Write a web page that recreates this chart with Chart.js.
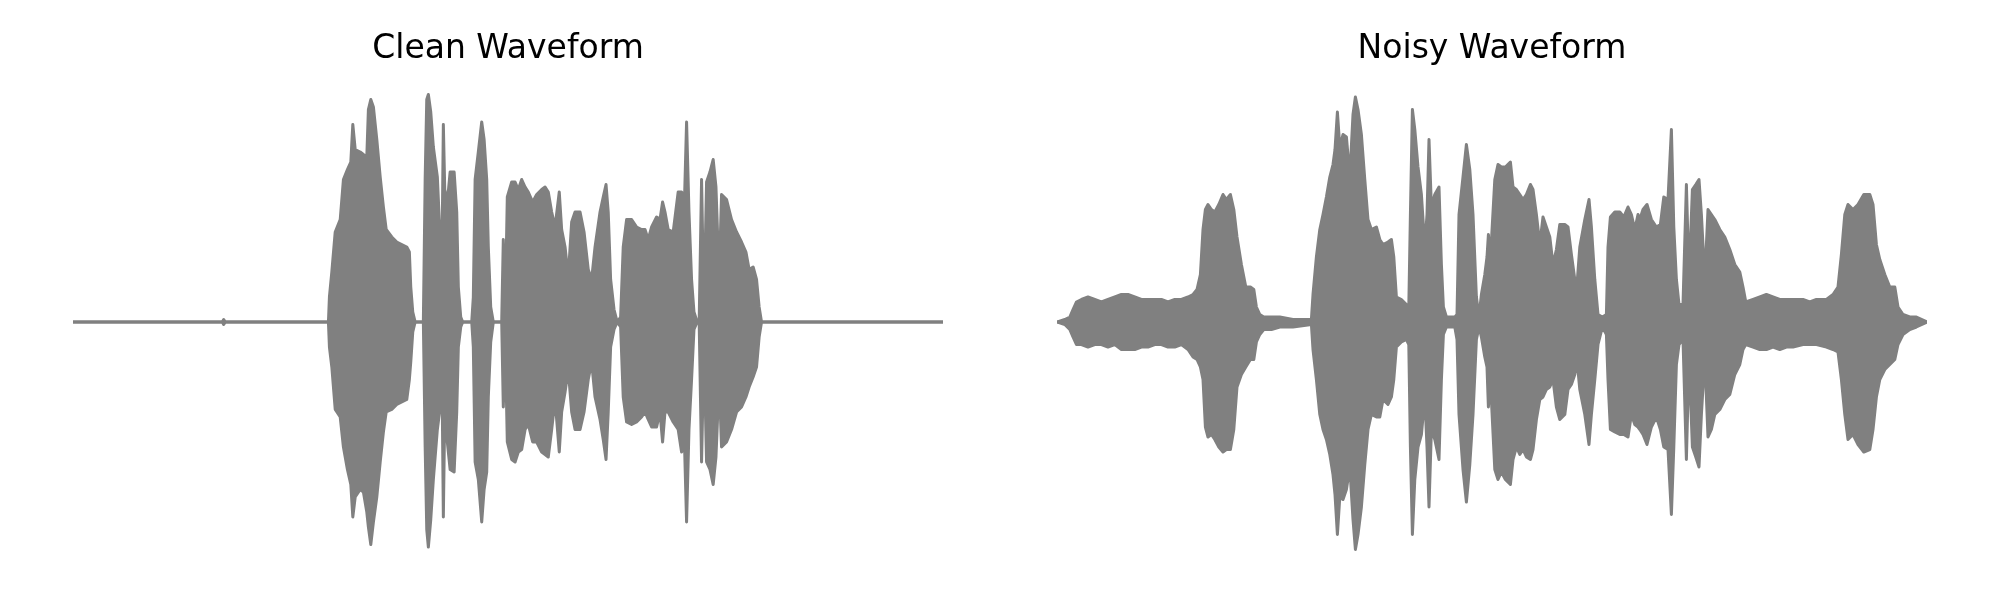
<!DOCTYPE html>
<html>
<head>
<meta charset="utf-8">
<script src="https://cdn.jsdelivr.net/npm/chart.js@4.4.1/dist/chart.umd.min.js"></script>
<style>
  body { margin: 0; background: #fff; }
  #wrap { position: relative; width: 2000px; height: 600px; }
  canvas { position: absolute; top: 0; }
</style>
</head>
<body>
<div id="wrap">
  <canvas id="cleanChart" width="1000" height="600" style="left:0"></canvas>
  <canvas id="noisyChart" width="1000" height="600" style="left:1000px"></canvas>
</div>
<script>
// envelope of each waveform (time in ms, amplitude top / bottom)
const titles = ["Clean Waveform", "Noisy Waveform"];

const cleanTime = [0, 747, 754, 762, 1278, 1283, 1295, 1312, 1337, 1353,
  1373, 1390, 1400, 1412, 1437, 1453, 1470, 1478, 1490, 1503,
  1520, 1537, 1553, 1567, 1595, 1620, 1645, 1670, 1683, 1690,
  1700, 1712, 1753, 1762, 1770, 1778, 1790, 1803, 1823, 1837,
  1848, 1853, 1860, 1873, 1887, 1907, 1920, 1928, 1940, 1950,
  1995, 2003, 2012, 2028, 2045, 2057, 2070, 2078, 2090, 2103,
  2145, 2153, 2163, 2173, 2195, 2212, 2228, 2245, 2262, 2278,
  2300, 2320, 2345, 2362, 2378, 2395, 2412, 2433, 2445, 2462,
  2478, 2495, 2512, 2537, 2557, 2578, 2595, 2612, 2637, 2653,
  2667, 2678, 2690, 2707, 2723, 2740, 2753, 2770, 2795, 2820,
  2845, 2862, 2878, 2895, 2920, 2937, 2950, 2962, 2978, 3003,
  3028, 3045, 3060, 3070, 3082, 3095, 3107, 3123, 3133, 3145,
  3157, 3170, 3187, 3203, 3217, 3233, 3245, 3270, 3295, 3320,
  3345, 3367, 3383, 3403, 3420, 3433, 3445, 4353];
const cleanUpper = [0, 0, 0.01, 0, 0, 0.10, 0.20, 0.36, 0.41, 0.57,
  0.61, 0.64, 0.79, 0.69, 0.68, 0.67, 0.66, 0.85, 0.89, 0.86,
  0.73, 0.58, 0.46, 0.37, 0.34, 0.32, 0.31, 0.30, 0.28, 0.14,
  0.04, 0, 0, 0.57, 0.89, 0.91, 0.84, 0.70, 0.58, 0.33,
  0.41, 0.79, 0.53, 0.48, 0.60, 0.60, 0.44, 0.14, 0.02, 0,
  0, 0.10, 0.57, 0.68, 0.80, 0.73, 0.57, 0.30, 0.06, 0,
  0, 0.33, 0.06, 0.50, 0.56, 0.56, 0.53, 0.57, 0.54, 0.52,
  0.48, 0.51, 0.53, 0.54, 0.52, 0.44, 0.38, 0.52, 0.37, 0.30,
  0.18, 0.40, 0.44, 0.44, 0.36, 0.21, 0.17, 0.30, 0.44, 0.50,
  0.55, 0.44, 0.17, 0.05, 0, 0.02, 0.30, 0.41, 0.41, 0.38,
  0.37, 0.37, 0.33, 0.38, 0.42, 0.41, 0.48, 0.44, 0.37, 0.36,
  0.52, 0.52, 0.50, 0.80, 0.44, 0.17, 0.04, 0, 0, 0.57,
  0.04, 0.56, 0.60, 0.65, 0.54, 0.17, 0.51, 0.49, 0.41, 0.36,
  0.32, 0.28, 0.21, 0.22, 0.17, 0.06, 0, 0];
const cleanLower = [0, 0, -0.01, 0, 0, -0.10, -0.18, -0.35, -0.38, -0.50,
  -0.59, -0.65, -0.78, -0.70, -0.67, -0.68, -0.76, -0.82, -0.89, -0.80,
  -0.70, -0.56, -0.44, -0.36, -0.35, -0.33, -0.32, -0.31, -0.23, -0.16,
  -0.04, 0, 0, -0.50, -0.83, -0.90, -0.79, -0.63, -0.43, -0.34,
  -0.36, -0.78, -0.36, -0.48, -0.59, -0.60, -0.36, -0.10, -0.02, 0,
  0, -0.10, -0.56, -0.63, -0.80, -0.67, -0.60, -0.30, -0.08, 0,
  0, -0.34, -0.08, -0.48, -0.55, -0.56, -0.52, -0.51, -0.43, -0.41,
  -0.48, -0.48, -0.52, -0.53, -0.54, -0.43, -0.31, -0.52, -0.36, -0.28,
  -0.19, -0.36, -0.43, -0.43, -0.36, -0.23, -0.16, -0.30, -0.39, -0.47,
  -0.55, -0.36, -0.10, -0.03, 0, -0.02, -0.30, -0.40, -0.41, -0.40,
  -0.38, -0.36, -0.39, -0.42, -0.42, -0.36, -0.48, -0.36, -0.36, -0.40,
  -0.43, -0.52, -0.50, -0.80, -0.43, -0.23, -0.03, 0, 0, -0.56,
  -0.10, -0.56, -0.59, -0.65, -0.54, -0.23, -0.50, -0.48, -0.43, -0.36,
  -0.34, -0.30, -0.26, -0.22, -0.18, -0.06, 0, 0];

const noisyTime = [0, 39, 64, 80, 97, 122, 155, 189, 222, 255,
  289, 322, 355, 389, 422, 455, 489, 522, 555, 589,
  622, 655, 680, 700, 717, 730, 742, 755, 772, 789,
  809, 830, 847, 867, 884, 900, 922, 944, 967, 984,
  997, 1014, 1034, 1072, 1114, 1180, 1272, 1280, 1297, 1314,
  1330, 1347, 1364, 1380, 1390, 1402, 1414, 1430, 1447, 1464,
  1480, 1492, 1505, 1522, 1539, 1555, 1572, 1597, 1614, 1630,
  1655, 1672, 1684, 1697, 1722, 1747, 1759, 1767, 1777, 1789,
  1805, 1822, 1839, 1850, 1860, 1872, 1889, 1910, 1922, 1932,
  1947, 1989, 2000, 2010, 2030, 2047, 2064, 2080, 2097, 2110,
  2122, 2139, 2150, 2157, 2167, 2189, 2205, 2222, 2242, 2267,
  2280, 2297, 2314, 2330, 2347, 2367, 2380, 2397, 2414, 2430,
  2447, 2464, 2480, 2497, 2514, 2539, 2555, 2572, 2589, 2600,
  2614, 2639, 2660, 2672, 2689, 2705, 2727, 2747, 2755, 2767,
  2789, 2814, 2834, 2855, 2872, 2889, 2905, 2914, 2930, 2950,
  2972, 2997, 3017, 3034, 3055, 3072, 3084, 3097, 3110, 3130,
  3147, 3160, 3177, 3194, 3210, 3222, 3239, 3255, 3272, 3289,
  3314, 3339, 3364, 3389, 3414, 3430, 3444, 3480, 3514, 3547,
  3580, 3614, 3647, 3680, 3730, 3764, 3797, 3847, 3880, 3905,
  3922, 3939, 3955, 3980, 4005, 4034, 4064, 4080, 4097, 4114,
  4139, 4164, 4189, 4205, 4230, 4264, 4297, 4350];
const noisyUpper = [0, 0.01, 0.02, 0.05, 0.08, 0.09, 0.10, 0.09, 0.08, 0.09,
  0.10, 0.11, 0.11, 0.10, 0.09, 0.09, 0.09, 0.09, 0.08, 0.09,
  0.09, 0.10, 0.11, 0.13, 0.19, 0.37, 0.45, 0.47, 0.45, 0.44,
  0.47, 0.51, 0.49, 0.51, 0.45, 0.34, 0.23, 0.14, 0.14, 0.13,
  0.06, 0.03, 0.02, 0.02, 0.02, 0.01, 0.01, 0.11, 0.26, 0.37,
  0.43, 0.50, 0.58, 0.63, 0.69, 0.84, 0.70, 0.75, 0.74, 0.58,
  0.83, 0.90, 0.85, 0.75, 0.57, 0.41, 0.37, 0.38, 0.33, 0.31,
  0.32, 0.33, 0.26, 0.10, 0.09, 0.07, 0.06, 0.43, 0.85, 0.77,
  0.62, 0.51, 0.30, 0.43, 0.73, 0.46, 0.51, 0.54, 0.23, 0.06,
  0.02, 0.02, 0.03, 0.43, 0.58, 0.71, 0.61, 0.43, 0.10, 0.02,
  0.11, 0.19, 0.26, 0.35, 0.25, 0.57, 0.63, 0.62, 0.62, 0.64,
  0.54, 0.53, 0.51, 0.49, 0.51, 0.55, 0.53, 0.43, 0.31, 0.42,
  0.38, 0.34, 0.23, 0.29, 0.39, 0.39, 0.38, 0.27, 0.17, 0.15,
  0.30, 0.41, 0.49, 0.38, 0.17, 0.03, 0.02, 0.03, 0.30, 0.42,
  0.44, 0.44, 0.42, 0.46, 0.43, 0.37, 0.43, 0.41, 0.45, 0.47,
  0.41, 0.38, 0.39, 0.50, 0.49, 0.77, 0.38, 0.17, 0.07, 0.07,
  0.55, 0.17, 0.53, 0.55, 0.57, 0.43, 0.17, 0.45, 0.43, 0.41,
  0.37, 0.34, 0.29, 0.23, 0.20, 0.14, 0.08, 0.09, 0.10, 0.11,
  0.10, 0.09, 0.09, 0.09, 0.09, 0.08, 0.09, 0.09, 0.11, 0.14,
  0.27, 0.43, 0.47, 0.45, 0.47, 0.51, 0.51, 0.47, 0.31, 0.25,
  0.19, 0.14, 0.14, 0.06, 0.03, 0.02, 0.02, 0];
const noisyLower = [0, -0.01, -0.03, -0.06, -0.09, -0.09, -0.10, -0.09, -0.09, -0.10,
  -0.09, -0.11, -0.11, -0.11, -0.10, -0.10, -0.09, -0.09, -0.10, -0.10,
  -0.09, -0.11, -0.14, -0.15, -0.18, -0.23, -0.42, -0.46, -0.45, -0.47,
  -0.50, -0.52, -0.51, -0.51, -0.43, -0.26, -0.21, -0.18, -0.15, -0.15,
  -0.08, -0.05, -0.03, -0.03, -0.02, -0.02, -0.01, -0.11, -0.23, -0.37,
  -0.43, -0.47, -0.53, -0.61, -0.69, -0.85, -0.70, -0.71, -0.67, -0.58,
  -0.79, -0.91, -0.85, -0.74, -0.57, -0.43, -0.37, -0.38, -0.38, -0.31,
  -0.33, -0.30, -0.23, -0.10, -0.08, -0.07, -0.09, -0.50, -0.85, -0.63,
  -0.50, -0.45, -0.30, -0.50, -0.74, -0.43, -0.47, -0.55, -0.23, -0.05,
  -0.02, -0.02, -0.07, -0.37, -0.59, -0.72, -0.57, -0.37, -0.07, -0.02,
  -0.06, -0.14, -0.18, -0.34, -0.23, -0.59, -0.63, -0.60, -0.63, -0.65,
  -0.55, -0.50, -0.53, -0.51, -0.54, -0.55, -0.51, -0.39, -0.31, -0.30,
  -0.27, -0.26, -0.23, -0.34, -0.39, -0.37, -0.27, -0.25, -0.21, -0.15,
  -0.27, -0.37, -0.49, -0.37, -0.23, -0.09, -0.02, -0.05, -0.23, -0.43,
  -0.44, -0.45, -0.45, -0.46, -0.37, -0.41, -0.42, -0.43, -0.45, -0.49,
  -0.42, -0.38, -0.43, -0.50, -0.51, -0.77, -0.50, -0.17, -0.09, -0.07,
  -0.55, -0.14, -0.50, -0.54, -0.58, -0.37, -0.14, -0.46, -0.43, -0.37,
  -0.35, -0.31, -0.29, -0.21, -0.17, -0.11, -0.09, -0.10, -0.11, -0.11,
  -0.10, -0.11, -0.10, -0.10, -0.09, -0.09, -0.09, -0.10, -0.11, -0.12,
  -0.23, -0.37, -0.47, -0.45, -0.49, -0.52, -0.51, -0.43, -0.30, -0.23,
  -0.19, -0.17, -0.15, -0.09, -0.05, -0.03, -0.02, 0];

const waveColor = "#808080";

function toPoints(times, amps) {
  return times.map((t, i) => ({ x: t, y: amps[i] }));
}

function buatWave(canvasId, title, times, upper, lower, padLeft, padRight) {
  let lineStyle = {
    borderColor: waveColor,
    backgroundColor: waveColor,
    borderWidth: 3,
    borderJoinStyle: "round",
    borderCapStyle: "round",
    pointRadius: 0,
    tension: 0
  };
  new Chart(document.getElementById(canvasId), {
    type: "line",
    data: {
      datasets: [
        Object.assign({ data: toPoints(times, upper), fill: "+1" }, lineStyle),
        Object.assign({ data: toPoints(times, lower), fill: false }, lineStyle)
      ]
    },
    options: {
      responsive: false,
      animation: false,
      events: [],
      layout: { padding: { left: padLeft, right: padRight, top: 0, bottom: 28 } },
      plugins: {
        legend: { display: false },
        tooltip: { enabled: false },
        title: {
          display: true,
          text: title,
          color: "#000",
          font: { family: "DejaVu Sans", size: 33, weight: "normal" },
          padding: { top: 30, bottom: 2.4 }
        }
      },
      scales: {
        x: { type: "linear", display: false, min: times[0], max: times[times.length - 1] },
        y: { display: false, min: -1, max: 1 }
      }
    }
  });
}

buatWave("cleanChart", titles[0], cleanTime, cleanUpper, cleanLower, 73, 57);
buatWave("noisyChart", titles[1], noisyTime, noisyUpper, noisyLower, 57, 73);
</script>
</body>
</html>
